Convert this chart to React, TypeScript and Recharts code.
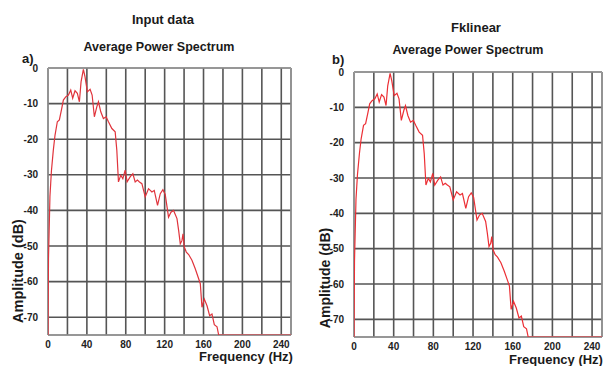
import { LineChart, Line, XAxis, YAxis, CartesianGrid, ReferenceArea } from "recharts";

// frequency (Hz) / amplitude (dB)
const freqHz = [
  0, 0.5, 2, 3.5, 5.5, 7.2, 9.6, 11.7, 14.1, 15.8, 18.2, 21, 23.4, 25.4, 27.8, 30.2, 32.3, 34, 36.4, 38.1,
  40.5, 43.3, 45.4, 47.7, 50.2, 51.9, 54.3, 57, 59.8, 62.2, 65.7, 69.1, 70.8, 72.5, 74.9, 77, 79.4, 81.4,
  84.5, 87.3, 89.7, 92, 94.1, 96.6, 100, 103.4, 106.9, 109.3, 112.7, 115.5, 118.2, 120.6, 124, 126.5,
  129.2, 132.7, 134.4, 136.1, 137.8, 138.9, 140.2, 142.3, 144.7, 148.1, 151.5, 155, 156.7, 158.4, 160.8,
  163.6, 166.3, 168.7, 171.1, 173.9, 175.6, 200, 250,
];
const ampDb = [
  -75, -53.5, -36.1, -29, -23, -18.9, -15.1, -14.6, -11.4, -9, -8.1, -7.6, -6.2, -8.5, -6.4, -7.1, -9.5, -3.9,
  -0.4, -2.5, -6.7, -6, -7.6, -13.7, -10.9, -9.5, -12.3, -14.2, -13.7, -15.1, -17, -17.9, -23.1, -32, -30.1,
  -31.1, -28.7, -32, -30.6, -29.7, -32, -31.5, -32, -32.5, -36.2, -33.9, -34.8, -34.4, -38.6, -35.3, -34.2,
  -35.5, -41.9, -40.5, -40, -42.3, -45.6, -49.4, -48.5, -46.6, -50.3, -51.7, -52.4, -54, -56.4, -59.2, -60.6,
  -67.2, -64.9, -66.8, -69.6, -69.1, -72.1, -72.7, -75, -75, -75,
];
const xTicks = [0, 20, 40, 60, 80, 100, 120, 140, 160, 180, 200, 220, 240];
const yTicks = [-70, -60, -50, -40, -30, -20, -10, 0];

const spectrum = freqHz.map((f, i) => ({ f, db: ampDb[i] }));

const FONT = "'Liberation Sans', Arial, sans-serif";
const tickStyle = { fontSize: 10, fontWeight: 700, fill: "#222", fontFamily: FONT };

function Panel({ left, top, marginLeft, marginRight, marginTop, marginBottom, color }: any) {
  return (
    <div style={{ position: "absolute", left, top }}>
      <LineChart
        width={302}
        height={366}
        data={spectrum}
        margin={{ top: marginTop, right: marginRight, left: marginLeft, bottom: marginBottom }}
      >
        <CartesianGrid stroke="#555" strokeWidth={1.6} />
        <ReferenceArea x1={0} x2={250} y1={-75} y2={0} fill="none" stroke="#b0b0b0" strokeWidth={1} />
        <XAxis
          type="number"
          dataKey="f"
          domain={[0, 250]}
          ticks={xTicks}
          interval={0}
          tickFormatter={(v) => (v % 40 === 0 ? String(v) : "")}
          tick={tickStyle}
          axisLine={false}
          tickLine={false}
          height={20}
          tickMargin={0}
          allowDataOverflow
        />
        <YAxis
          type="number"
          domain={[-75, 0]}
          ticks={yTicks}
          interval={0}
          tick={tickStyle}
          axisLine={false}
          tickLine={false}
          width={30}
          tickMargin={4}
          allowDataOverflow
        />
        <Line
          type="linear"
          dataKey="db"
          stroke={color}
          strokeWidth={1.2}
          dot={false}
          isAnimationActive={false}
        />
      </LineChart>
    </div>
  );
}

export default function App() {
  const title = { fontFamily: FONT, fontWeight: 700, fill: "#1a1a1a" } as const;
  return (
    <div style={{ position: "fixed", left: 0, top: 0, width: 604, height: 366, background: "#fff" }}>
      <Panel left={0} top={0} marginLeft={18} marginRight={11} marginTop={68} marginBottom={11} color="#e0343c" />
      <Panel left={302} top={0} marginLeft={22} marginRight={2} marginTop={72} marginBottom={9} color="#ec2f35" />
      <svg width={604} height={366} style={{ position: "absolute", left: 0, top: 0, pointerEvents: "none" }}>
        <text x={163} y={24} textAnchor="middle" fontSize={13} {...title}>Input data</text>
        <text x={159} y={51} textAnchor="middle" fontSize={12.5} {...title}>Average Power Spectrum</text>
        <text x={22} y={63} fontSize={13} {...title}>a)</text>
        <text x={476} y={32} textAnchor="middle" fontSize={13} {...title}>Fklinear</text>
        <text x={468} y={54} textAnchor="middle" fontSize={12.5} {...title}>Average Power Spectrum</text>
        <text x={332} y={64} fontSize={13} {...title}>b)</text>
        <text x={246} y={361} textAnchor="middle" fontSize={13} {...title}>Frequency (Hz)</text>
        <text x={556} y={364} textAnchor="middle" fontSize={13} {...title}>Frequency (Hz)</text>
        <text transform="translate(23,271) rotate(-90)" textAnchor="middle" fontSize={14.5} {...title}>Amplitude (dB)</text>
        <text transform="translate(330,278) rotate(-90)" textAnchor="middle" fontSize={14} {...title}>Amplitude (dB)</text>
      </svg>
    </div>
  );
}
